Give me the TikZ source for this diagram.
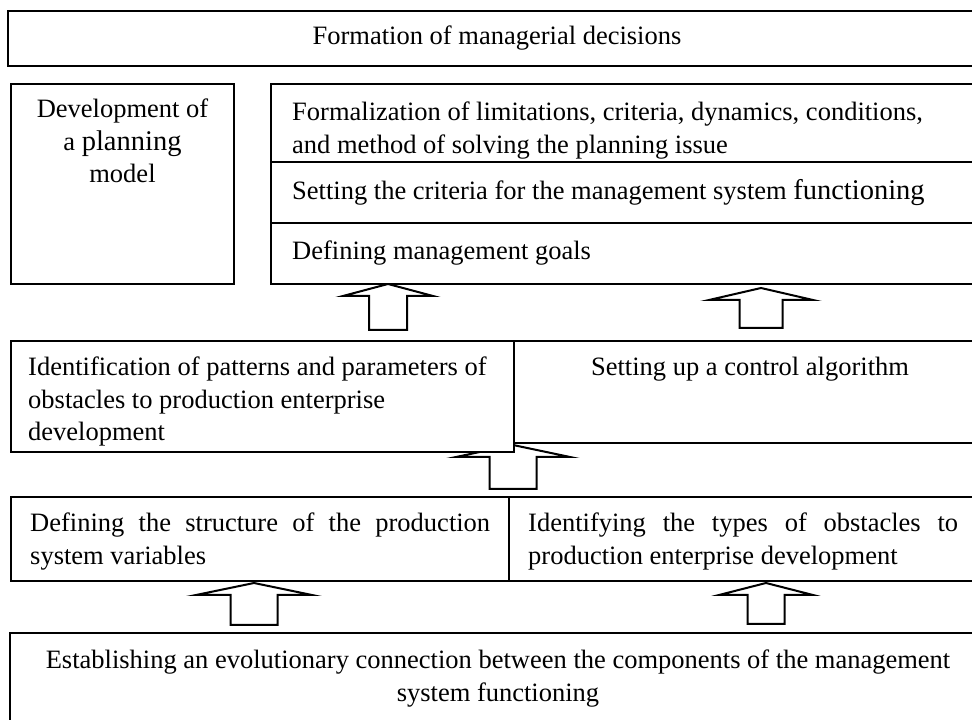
\documentclass[tikz,border=0pt]{standalone}
\usepackage{fontspec}
\setmainfont{Liberation Serif}
\usetikzlibrary{positioning}

% hollow block arrow pointing up: tip, half head width, half shaft width, length
\newcommand{\liftarrow}[4]{%
  \draw[hollow] (#1) -- ++(#2,-12) -- ++({#3-#2},0) -- ++(0,{12-#4})
    -- ++({-2*#3},0) -- ++(0,{#4-12}) -- ++({#3-#2},0) -- cycle;}
\newcommand{\bigword}[1]{{\fontsize{28.5}{32.5}\selectfont #1}}

\hyphenpenalty=10000
\tolerance=10000

\begin{document}
\begin{tikzpicture}[
    x=1pt,
    y=1pt,
    box/.style={draw, fill=white, line width=2pt, inner sep=0pt, anchor=north west},
    txt/.style={inner sep=0pt, font=\fontsize{26.5}{32.5}\selectfont},
    hollow/.style={draw, fill=white, line width=2pt}
]
\useasboundingbox (0,0) rectangle (972,720);
\clip (0,0) rectangle (972,720);

% Arrows (drawn first, boxes cover them)
\coordinate (upA) at (388,436);
\coordinate (upB) at (761,432);
\coordinate (upC) at (513,275);
\coordinate (upD) at (254,137);
\coordinate (upE) at (766,137);

\liftarrow{upA}{45}{19}{46}
\liftarrow{upB}{52}{21.5}{40}
\liftarrow{upC}{57}{23.5}{44}
\liftarrow{upD}{58}{23.5}{42}
\liftarrow{upE}{47}{18.5}{41}

% Top
\node[box, txt, minimum width=978, minimum height=55] (decisions) at (7,710)
    {Formation of managerial decisions};

% Planning model
\node[box, minimum width=223, minimum height=200] (plan) at (10,637) {};
\node[txt, align=center, below=16pt of plan.north] (plantxt)
    {Development of\\a \bigword{planning}\\model};

\node[box, minimum width=715, minimum height=78] (formal) at (270,637) {};
\node[txt, align=left, below right=19pt and 22pt of formal.north west] (formaltxt)
    {Formalization of limitations, criteria, dynamics, conditions,\\and method of solving the planning issue};

\node[box, minimum width=715, minimum height=61] (criteria) at (270,559) {};
\node[txt, right=22pt of criteria.west] (criteriatxt)
    {Setting the criteria for the management system \bigword{functioning}};

\node[box, minimum width=715, minimum height=61] (goals) at (270,498) {};
\node[txt, right=22pt of goals.west] (goalstxt) {Defining management goals};

% Middle row
\node[box, minimum width=472, minimum height=102] (control) at (513,380) {};
\node[txt, below=17pt of control.north] (controltxt) {Setting up a control algorithm};

\node[box, minimum width=503, minimum height=111] (ident) at (10,380) {};
\node[txt, align=left, below right=17pt and 18pt of ident.north west] (identtxt)
    {Identification of patterns and parameters of\\obstacles to production enterprise\\development};

% Lower row
\node[box, minimum width=498, minimum height=84] (struct) at (10,224) {};
\node[txt, align=justify, text width=460, below right=17pt and 20pt of struct.north west] (structtxt)
    {Defining the structure of the production system variables};

\node[box, minimum width=477, minimum height=84] (types) at (508,224) {};
\node[txt, align=justify, text width=430, below right=17pt and 20pt of types.north west] (typestxt)
    {Identifying the types of obstacles to production enterprise development};

% Base
\node[box, minimum width=976, minimum height=120] (evolution) at (9,88) {};
\node[txt, align=center, below=18pt of evolution.north] (evolutiontxt)
    {Establishing an evolutionary connection between the components of the management\\system functioning};

\end{tikzpicture}
\end{document}
